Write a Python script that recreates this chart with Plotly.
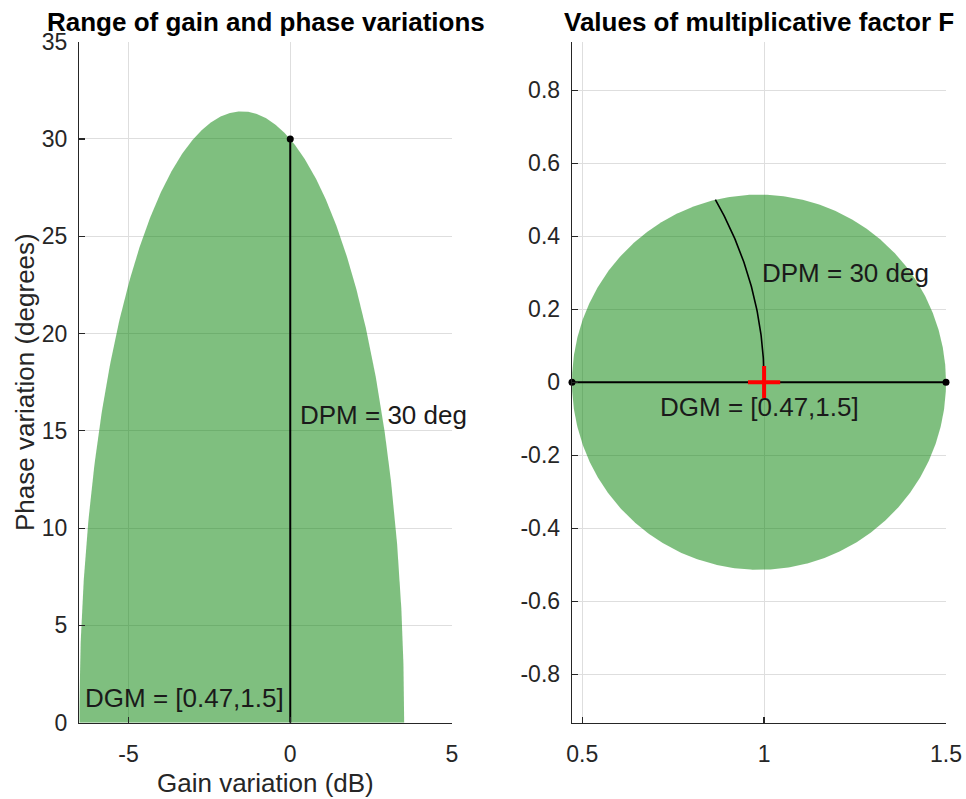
import numpy as np
import plotly.graph_objects as go

# ---- values ----
DGM = [0.472, 1.5]          # disk gain margin bounds (gain factor)
DPM = 30.0                  # disk phase margin (deg)
DGM_LABEL = "DGM = [0.47,1.5]"
DPM_LABEL = "DPM = 30 deg"
TITLES = ["Range of gain and phase variations", "Values of multiplicative factor F"]
XLABEL = "Gain variation (dB)"
YLABEL = "Phase variation (degrees)"
LEFT_XTICKS = [-5, 0, 5]
LEFT_YTICKS = [0, 5, 10, 15, 20, 25, 30, 35]
RIGHT_XTICKS = [0.5, 1, 1.5]
RIGHT_YTICKS = [-0.8, -0.6, -0.4, -0.2, 0, 0.2, 0.4, 0.6, 0.8]
LEFT_XMAX = 5
LEFT_YLIM = [0, 35]
RIGHT_YLIM = [-0.933, 0.933]

# ---- geometry of the disk of multiplicative factors F ----
gmin, gmax = DGM
c = (gmin + gmax) / 2
r = (gmax - gmin) / 2
t_full = np.linspace(0, 2 * np.pi, 721)
disk = c + r * np.exp(1j * t_full)
t_half = np.linspace(0, np.pi, 721)
upper = c + r * np.exp(1j * t_half)
gain_db = 20 * np.log10(np.abs(upper))
phase_deg = np.degrees(np.angle(upper))
phi = np.radians(np.linspace(0, DPM, 100))
arc = np.exp(1j * phi)

FONT = "Liberation Sans, Arial, sans-serif"
AX = "#262626"
GRID = "#dedede"
FILL = "rgba(0,128,0,0.5)"

W, H = 966, 799


def PX(x):
    return x / W


def PY(y):
    return 1 - y / H


fig = go.Figure()
# left panel
fig.add_trace(go.Scatter(x=gain_db, y=phase_deg, mode="lines", line=dict(width=0),
                         fill="tozeroy", fillcolor=FILL, xaxis="x", yaxis="y",
                         hoverinfo="skip"))
fig.add_trace(go.Scatter(x=[0, 0], y=[0, DPM], mode="lines", line=dict(color="black", width=2),
                         xaxis="x", yaxis="y"))
fig.add_trace(go.Scatter(x=[0], y=[DPM], mode="markers", marker=dict(color="black", size=7),
                         xaxis="x", yaxis="y"))
# right panel
fig.add_trace(go.Scatter(x=disk.real, y=disk.imag, mode="lines", line=dict(width=0),
                         fill="toself", fillcolor=FILL, xaxis="x2", yaxis="y2",
                         hoverinfo="skip"))
fig.add_trace(go.Scatter(x=arc.real, y=arc.imag, mode="lines", line=dict(color="black", width=1.6),
                         xaxis="x2", yaxis="y2"))
fig.add_trace(go.Scatter(x=[gmin, gmax], y=[0, 0], mode="lines+markers",
                         line=dict(color="black", width=2), marker=dict(color="black", size=7),
                         cliponaxis=False, xaxis="x2", yaxis="y2"))
fig.add_trace(go.Scatter(x=[1], y=[0], mode="markers",
                         marker=dict(symbol="cross-thin", size=23, line=dict(color="red", width=4)),
                         xaxis="x2", yaxis="y2"))

x_dom_l = [PX(79.3), PX(452)]
x_dom_r = [PX(572), PX(946)]
y_dom = [PY(722.7), PY(41.7)]


def axstyle(**kw):
    d = dict(showgrid=True, gridcolor=GRID, gridwidth=1, zeroline=False,
             showline=True, linecolor=AX, linewidth=1.3, ticks="inside", ticklen=6,
             tickwidth=1.2, tickcolor=AX, tickfont=dict(family=FONT, size=23, color=AX),
             mirror=False, fixedrange=True, automargin=False)
    d.update(kw)
    return d


fig.update_layout(
    width=W, height=H, margin=dict(l=0, r=0, t=0, b=0, autoexpand=False),
    paper_bgcolor="white", plot_bgcolor="white", showlegend=False,
    xaxis=axstyle(domain=x_dom_l, range=[20 * np.log10(gmin), LEFT_XMAX], anchor="y",
                  tickvals=LEFT_XTICKS, ticktext=[str(v) for v in LEFT_XTICKS],
                  ticklabelstandoff=10),
    yaxis=axstyle(domain=y_dom, range=LEFT_YLIM, anchor="x",
                  tickvals=LEFT_YTICKS, ticktext=[str(v) for v in LEFT_YTICKS],
                  ticklabelstandoff=6),
    xaxis2=axstyle(domain=x_dom_r, range=[gmin, gmax], anchor="y2",
                   tickvals=RIGHT_XTICKS, ticktext=["0.5", "1", "1.5"],
                   ticklabelstandoff=10),
    yaxis2=axstyle(domain=y_dom, range=RIGHT_YLIM, anchor="x2",
                   tickvals=RIGHT_YTICKS, ticktext=[f"{v:g}" for v in RIGHT_YTICKS],
                   ticklabelstandoff=6),
)

txt = dict(family=FONT, size=26, color="#1a1a1a")
ann = [
    dict(x=0.25, y=15.8, xref="x", yref="y", text=DPM_LABEL, showarrow=False,
         xanchor="left", yanchor="middle", font=txt),
    dict(x=-6.42, y=1.27, xref="x", yref="y", text=DGM_LABEL, showarrow=False,
         xanchor="left", yanchor="middle", font=txt),
    dict(x=0.989, y=0.298, xref="x2", yref="y2", text=DPM_LABEL, showarrow=False,
         xanchor="left", yanchor="middle", font=txt),
    dict(x=c, y=-0.069, xref="x2", yref="y2", text=DGM_LABEL, showarrow=False,
         xanchor="center", yanchor="middle", font=txt),
    dict(x=(x_dom_l[0] + x_dom_l[1]) / 2, y=PY(22), xref="paper", yref="paper",
         text="<b>" + TITLES[0] + "</b>", showarrow=False, xanchor="center", yanchor="middle",
         font=dict(family=FONT, size=26, color="black")),
    dict(x=(x_dom_r[0] + x_dom_r[1]) / 2, y=PY(22), xref="paper", yref="paper",
         text="<b>" + TITLES[1] + "</b>", showarrow=False, xanchor="center", yanchor="middle",
         font=dict(family=FONT, size=26, color="black")),
    dict(x=(x_dom_l[0] + x_dom_l[1]) / 2, y=PY(783), xref="paper", yref="paper",
         text=XLABEL, showarrow=False, xanchor="center", yanchor="middle",
         font=dict(family=FONT, size=26, color=AX)),
    dict(x=PX(25), y=PY(382), xref="paper", yref="paper", text=YLABEL,
         textangle=-90, showarrow=False, xanchor="center", yanchor="middle",
         font=dict(family=FONT, size=26, color=AX)),
]
fig.update_layout(annotations=ann)
fig.write_html("out.html", config={"displayModeBar": False, "staticPlot": True},
               post_script="document.body.style.margin='0';document.body.style.overflow='hidden';")
